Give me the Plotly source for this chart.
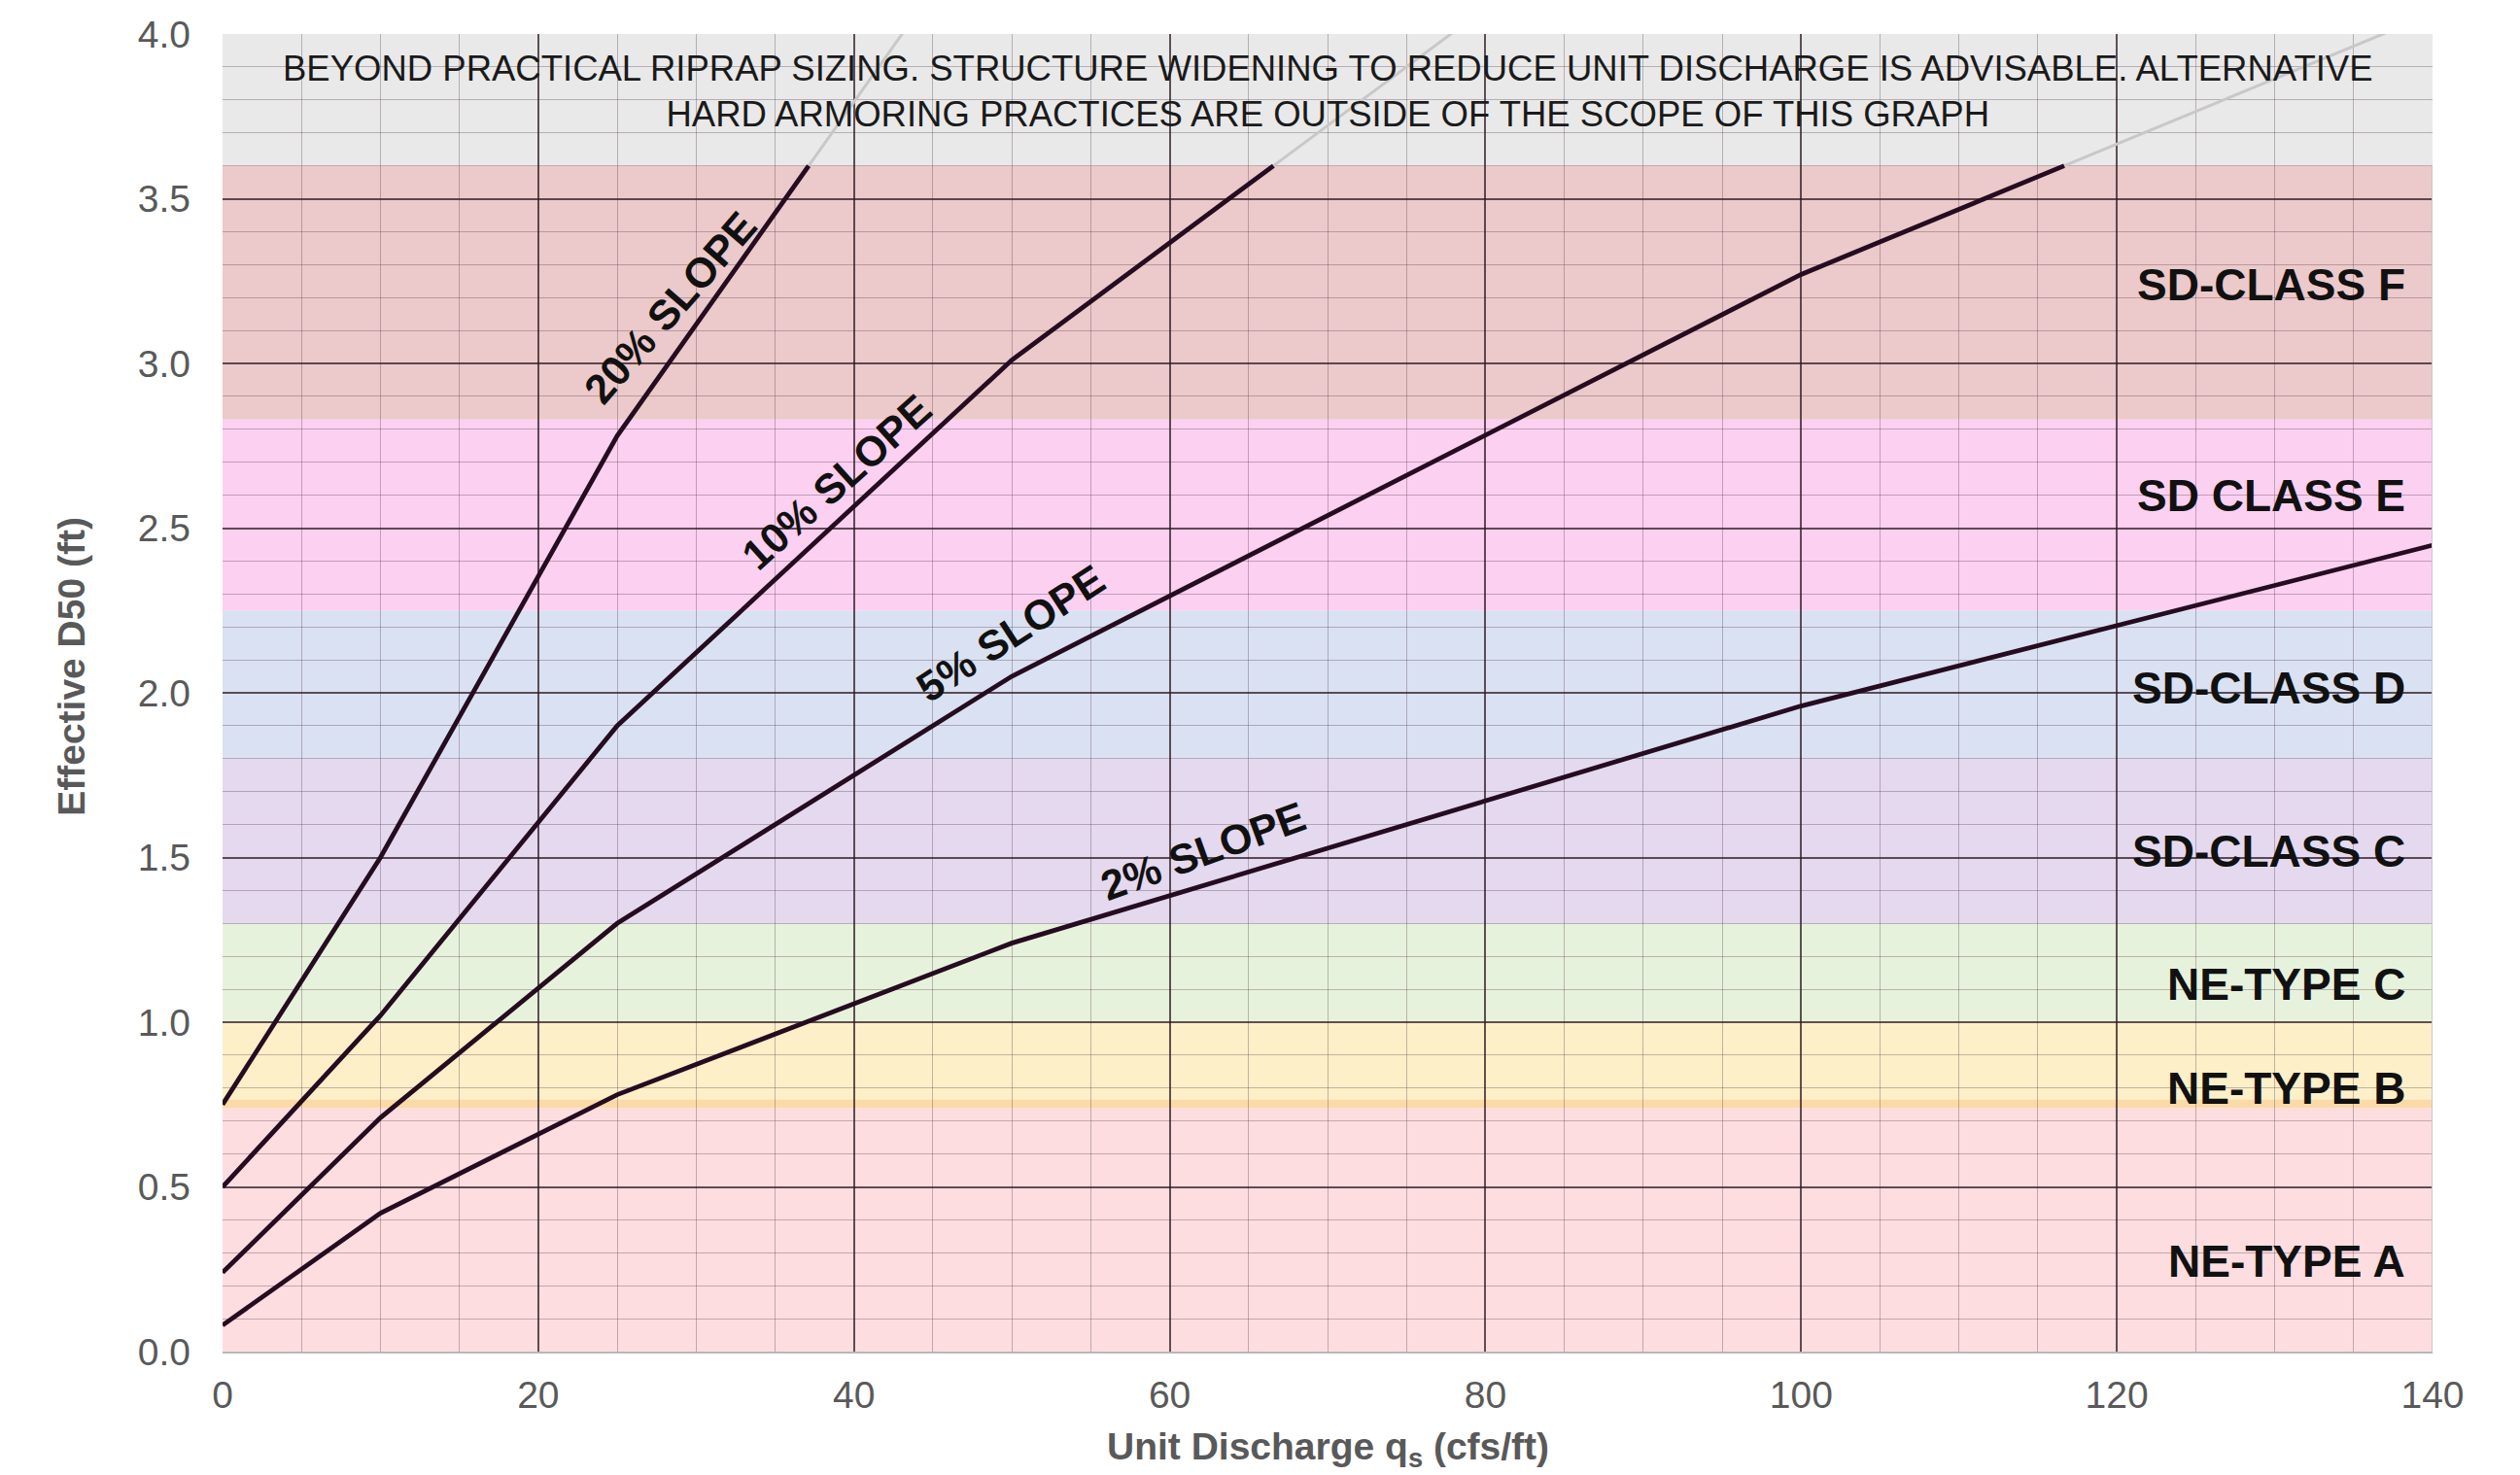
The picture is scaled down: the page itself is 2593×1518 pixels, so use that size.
import numpy as np
import plotly.graph_objects as go

# ---------------- data ----------------
q_20 = [0, 10, 25, 50]
d50_20 = [0.75, 1.50, 2.78, 4.47]
q_10 = [0, 10, 25, 50, 100]
d50_10 = [0.50, 1.02, 1.90, 3.01, 4.79]
q_5 = [0, 10, 25, 50, 100, 150]
d50_5 = [0.24, 0.71, 1.30, 2.05, 3.27, 4.26]
q_2 = [0, 10, 25, 50, 100, 150]
d50_2 = [0.08, 0.42, 0.78, 1.24, 1.96, 2.57]

slope_labels = ["20% SLOPE", "10% SLOPE", "5% SLOPE", "2% SLOPE"]
slope_label_x = [28.4, 38.9, 49.9, 62.1]
slope_label_y = [3.17, 2.64, 2.18, 1.52]
slope_label_angle = [-49, -42, -33, -20]

band_names = ["NE-TYPE A", "NE-TYPE B", "NE-TYPE C", "SD-CLASS C",
              "SD-CLASS D", "SD CLASS E", "SD-CLASS F", "BEYOND"]
band_low = [0.0, 0.74, 1.0, 1.3, 1.8, 2.25, 2.83, 3.6]
band_high = [0.74, 1.0, 1.3, 1.8, 2.25, 2.83, 3.6, 4.0]
band_colors = ["#fddde0", "#fdefc8", "#e7f2dc", "#e4d9ef",
               "#dae1f2", "#fbd0f1", "#ecc9ca", "#e9e9e9"]
band_label_y = [0.274, 0.80, 1.115, 1.52, 2.015, 2.60, 3.24]

beyond_text = ("BEYOND PRACTICAL RIPRAP SIZING. STRUCTURE WIDENING TO REDUCE UNIT DISCHARGE IS ADVISABLE. ALTERNATIVE"
               "<br>HARD ARMORING PRACTICES ARE OUTSIDE OF THE SCOPE OF THIS GRAPH")

x_title = "<b>Unit Discharge q<sub>s</sub> (cfs/ft)</b>"
y_title = "<b>Effective D50 (ft)</b>"

x_range = [0, 140]
y_range = [0, 4.0]

FONT = "Liberation Sans, Arial, sans-serif"
DARK = "#260c20"
FADE = "#c8c8c8"

fig = go.Figure()

# bands
for lo, hi, col in zip(band_low, band_high, band_colors):
    fig.add_shape(type="rect", xref="x", yref="y", x0=x_range[0], x1=x_range[1],
                  y0=lo, y1=hi, fillcolor=col, line=dict(width=0), layer="below")
# slightly deeper strip at base of NE-TYPE B
fig.add_shape(type="rect", xref="x", yref="y", x0=x_range[0], x1=x_range[1],
              y0=band_low[1], y1=band_low[1] + 0.025, fillcolor="#fbdaa8",
              line=dict(width=0), layer="below")
# light border on the right edge
fig.add_shape(type="line", xref="x", yref="y", x0=x_range[1], x1=x_range[1],
              y0=y_range[0], y1=band_low[-1], line=dict(color="#c8c8c8", width=2),
              layer="above")

limit = band_low[-1]


def split(xs, ys, lim):
    xs = np.asarray(xs, float)
    ys = np.asarray(ys, float)
    if ys.max() <= lim:
        return xs, ys, None, None
    xc = np.interp(lim, ys, xs)
    lo = ys < lim
    return (np.r_[xs[lo], xc], np.r_[ys[lo], lim],
            np.r_[xc, xs[~lo]], np.r_[lim, ys[~lo]])


for xs, ys, name in [(q_20, d50_20, "20%"), (q_10, d50_10, "10%"),
                     (q_5, d50_5, "5%"), (q_2, d50_2, "2%")]:
    dx, dy, ux, uy = split(xs, ys, limit)
    if ux is not None:
        fig.add_trace(go.Scatter(x=ux, y=uy, mode="lines", name=name + " (beyond)",
                                 line=dict(color=FADE, width=3), showlegend=False,
                                 hoverinfo="skip"))
    fig.add_trace(go.Scatter(x=dx, y=dy, mode="lines", name=name,
                             line=dict(color=DARK, width=4.8), showlegend=False))

annotations = []
for txt, x, y, a in zip(slope_labels, slope_label_x, slope_label_y, slope_label_angle):
    annotations.append(dict(x=x, y=y, xref="x", yref="y", text="<b>" + txt + "</b>",
                            textangle=a, showarrow=False,
                            font=dict(family=FONT, size=43, color="#111111")))
for name, y in zip(band_names[:-1], band_label_y):
    annotations.append(dict(x=138.4, y=y, xref="x", yref="y", text="<b>" + name + "</b>",
                            xanchor="right", yanchor="middle", showarrow=False,
                            font=dict(family=FONT, size=46, color="#111111")))
annotations.append(dict(x=70, y=3.825, xref="x", yref="y", text=beyond_text,
                        showarrow=False, align="center",
                        font=dict(family=FONT, size=36.5, color="#1a1a1a")))
# axis titles
annotations.append(dict(x=-0.0682, y=0.52, xref="paper", yref="paper",
                        text=y_title, textangle=-90,
                        showarrow=False, xanchor="center", yanchor="middle",
                        font=dict(family=FONT, size=39, color="#595959")))
annotations.append(dict(x=0.5, y=-0.074, xref="paper", yref="paper",
                        text=x_title, showarrow=False,
                        xanchor="center", yanchor="middle",
                        font=dict(family=FONT, size=39, color="#595959")))

# page body has an 8px default margin; offsets below account for it
fig.update_layout(
    width=2585, height=1510,
    margin=dict(l=221, r=90, t=27, b=127),
    paper_bgcolor="white", plot_bgcolor="white",
    font=dict(family=FONT, color="#595959"),
    showlegend=False,
    annotations=annotations,
)

fig.update_xaxes(
    range=x_range, dtick=20, tick0=0,
    showgrid=True, gridcolor="rgba(45,25,35,0.75)", gridwidth=1.6,
    minor=dict(dtick=5, showgrid=True, gridcolor="rgba(80,55,70,0.33)", gridwidth=1.4),
    zeroline=False, showline=True, linecolor="#b8b8b8", linewidth=2,
    tickfont=dict(family=FONT, size=39, color="#595959"),
    ticklabelstandoff=9,
    automargin=False,
)
fig.update_yaxes(
    range=y_range, dtick=0.5, tick0=0, tickformat=".1f",
    showgrid=True, gridcolor="rgba(45,25,35,0.75)", gridwidth=1.6,
    minor=dict(dtick=0.1, showgrid=True, gridcolor="rgba(80,55,70,0.33)", gridwidth=1.4),
    zeroline=False, showline=False,
    tickfont=dict(family=FONT, size=39, color="#595959"),
    ticklabelstandoff=32,
    automargin=False,
)

fig.write_html("out.html")
